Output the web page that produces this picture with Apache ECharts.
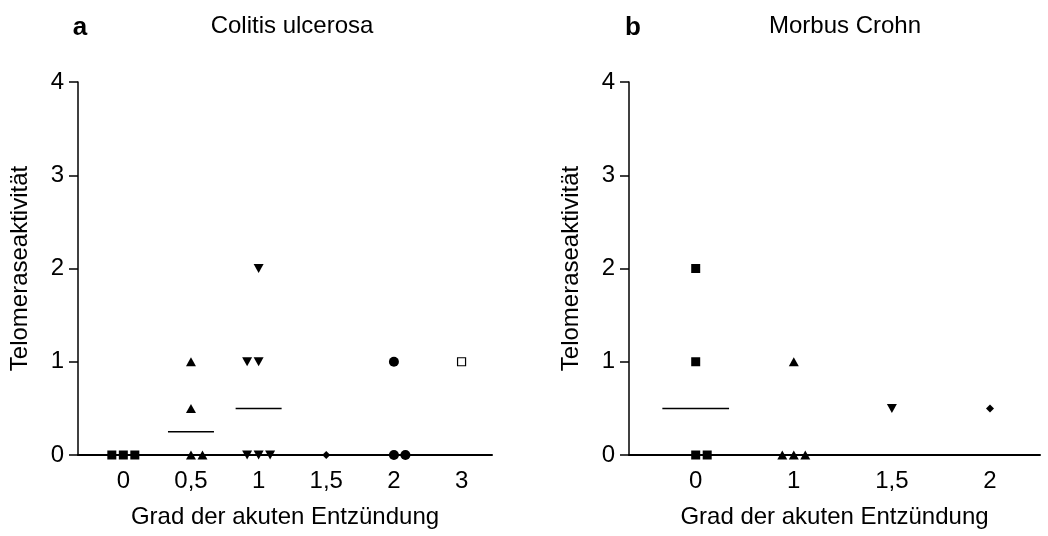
<!DOCTYPE html>
<html>
<head>
<meta charset="utf-8">
<script src="https://cdn.jsdelivr.net/npm/echarts@6/dist/echarts.min.js"></script>
<style>
  html, body { margin: 0; padding: 0; background: #fff; }
  #chart { width: 1048px; height: 536px; }
</style>
</head>
<body>
<div id="chart"></div>
<script>
// Panel a: Colitis ulcerosa
const cuCategories = ['0', '0,5', '1', '1,5', '2', '3'];
const cuValues = [[0, 0, 0], [1, 0.5, 0, 0], [2, 1, 1, 0, 0, 0], [0], [1, 0, 0], [1]];
// side-by-side slot of each point inside its column (-1 left, 0 centre, 1 right)
const cuSlots = [[-1, 0, 1], [0, 0, 0, 1], [0, -1, 0, -1, 0, 1], [0], [0, 0, 1], [0]];
const cuMedians = [0, 0.25, 0.5, null, 0, null];

// Panel b: Morbus Crohn
const mcCategories = ['0', '1', '1,5', '2'];
const mcValues = [[2, 1, 0, 0], [1, 0, 0, 0], [0.5], [0.5]];
const mcSlots = [[0, 0, 0, 1], [0, -1, 0, 1], [0], [0]];
const mcMedians = [0.5, 0, null, null];

const yTicks = [0, 1, 2, 3, 4];

const FONT = 'Liberation Sans, Arial, sans-serif';
const SLOT_PX = 11.5;

const markers = [
  { symbol: 'rect', size: 9, rotate: 0, fill: '#000' },
  { symbol: 'triangle', size: [10, 9], rotate: 0, fill: '#000' },
  { symbol: 'triangle', size: [10, 9], rotate: 180, fill: '#000' },
  { symbol: 'diamond', size: 8, rotate: 0, fill: '#000' },
  { symbol: 'circle', size: 10, rotate: 0, fill: '#000' },
  { symbol: 'rect', size: 8, rotate: 0, fill: '#fff' }
];

function yAxis(gridIndex) {
  return {
    type: 'value', gridIndex, min: yTicks[0], max: yTicks[yTicks.length - 1], interval: 1,
    name: 'Telomeraseaktivität', nameLocation: 'middle', nameGap: 46,
    nameTextStyle: { fontFamily: FONT, fontSize: 24, color: '#000' },
    axisLine: { show: true, onZero: false, lineStyle: { color: '#000', width: 1.5 } },
    axisTick: { show: true, inside: false, length: 9, lineStyle: { color: '#000', width: 1.5 } },
    axisLabel: { fontFamily: FONT, fontSize: 24, color: '#000', margin: 14 },
    splitLine: { show: false }
  };
}

function xAxis(gridIndex, cats, min, max) {
  return {
    type: 'value', gridIndex, min, max,
    name: 'Grad der akuten Entzündung', nameLocation: 'middle', nameGap: 50,
    nameTextStyle: { fontFamily: FONT, fontSize: 24, color: '#000' },
    axisLine: { show: true, onZero: false, lineStyle: { color: '#000', width: 2 } },
    axisTick: { show: false },
    axisLabel: {
      fontFamily: FONT, fontSize: 24, color: '#000', margin: 14,
      customValues: cats.map((c, i) => i),
      formatter: v => cats[Math.round(v)]
    },
    splitLine: { show: false }
  };
}

function pointSeries(values, slots, axisIndex) {
  return values.map((col, ci) => {
    const m = markers[ci];
    return {
      type: 'scatter', xAxisIndex: axisIndex, yAxisIndex: axisIndex,
      symbol: m.symbol, symbolSize: m.size, symbolRotate: m.rotate,
      itemStyle: { color: m.fill, borderColor: '#000', borderWidth: m.fill === '#fff' ? 1.2 : 0, opacity: 1 },
      emphasis: { disabled: true },
      z: 5,
      data: col.map((v, i) => ({ value: [ci, v], symbolOffset: [slots[ci][i] * SLOT_PX, 0] }))
    };
  });
}

function medianSeries(medians, axisIndex) {
  const data = [];
  medians.forEach((m, i) => { if (m !== null) data.push([i, m]); });
  return {
    type: 'custom', xAxisIndex: axisIndex, yAxisIndex: axisIndex, z: 4,
    data,
    renderItem: (params, api) => {
      const x = api.value(0), y = api.value(1);
      const a = api.coord([x - 0.34, y]);
      const b = api.coord([x + 0.34, y]);
      return {
        type: 'line',
        shape: { x1: a[0], y1: a[1], x2: b[0], y2: b[1] },
        style: { stroke: '#000', lineWidth: 1.5 }
      };
    }
  };
}

const chart = echarts.init(document.getElementById('chart'), null, { renderer: 'canvas' });
chart.setOption({
  animation: false,
  backgroundColor: '#fff',
  grid: [
    { left: 78, top: 82, width: 414, height: 373 },
    { left: 629, top: 82, width: 411, height: 373 }
  ],
  xAxis: [
    xAxis(0, cuCategories, -0.67, 5.45),
    xAxis(1, mcCategories, -0.68, 3.51)
  ],
  yAxis: [yAxis(0), yAxis(1)],
  graphic: [
    { type: 'text', x: 80, y: 28, style: { text: 'a', font: 'bold 26px ' + FONT, fill: '#000', textAlign: 'center', textVerticalAlign: 'middle' } },
    { type: 'text', x: 292, y: 26, style: { text: 'Colitis ulcerosa', font: '24px ' + FONT, fill: '#000', textAlign: 'center', textVerticalAlign: 'middle' } },
    { type: 'text', x: 633, y: 28, style: { text: 'b', font: 'bold 26px ' + FONT, fill: '#000', textAlign: 'center', textVerticalAlign: 'middle' } },
    { type: 'text', x: 845, y: 26, style: { text: 'Morbus Crohn', font: '24px ' + FONT, fill: '#000', textAlign: 'center', textVerticalAlign: 'middle' } }
  ],
  series: [
    medianSeries(cuMedians, 0),
    medianSeries(mcMedians, 1),
    ...pointSeries(cuValues, cuSlots, 0),
    ...pointSeries(mcValues, mcSlots, 1)
  ]
});
</script>
</body>
</html>
